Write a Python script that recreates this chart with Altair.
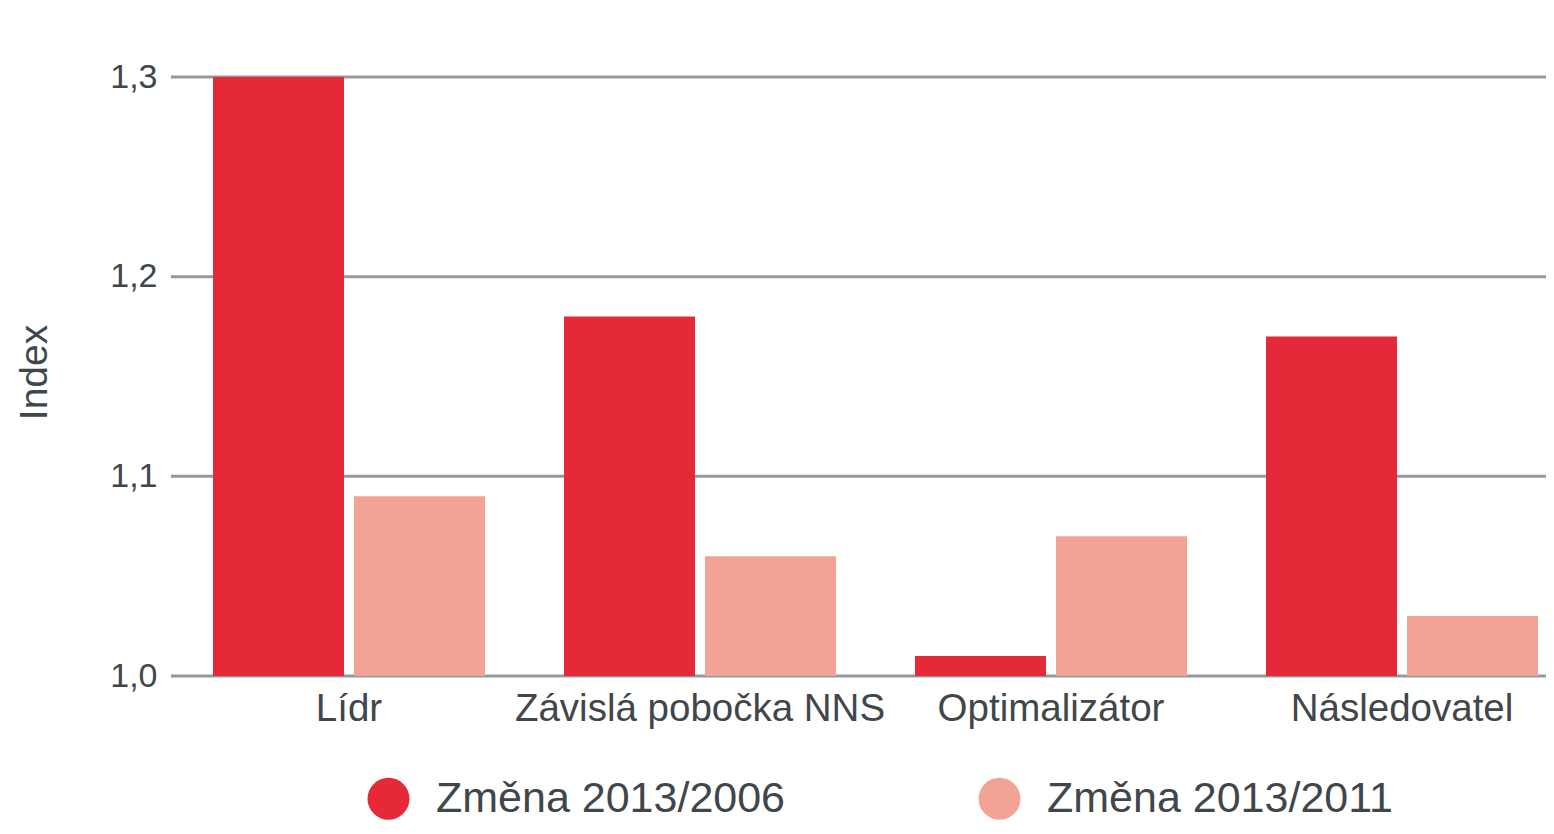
import altair as alt
import pandas as pd

categories = ["Lídr", "Závislá pobočka NNS", "Optimalizátor", "Následovatel"]
series = ["Změna 2013/2006", "Změna 2013/2011"]
values_2006 = [1.30, 1.18, 1.01, 1.17]
values_2011 = [1.09, 1.06, 1.07, 1.03]
y_ticks = [1.0, 1.1, 1.2, 1.3]
colors = ["#E52939", "#F3A395"]

rows = []
for c, a, b in zip(categories, values_2006, values_2011):
    rows.append({"kategorie": c, "serie": series[0], "index": a})
    rows.append({"kategorie": c, "serie": series[1], "index": b})
df = pd.DataFrame(rows)
grid_df = pd.DataFrame({"index": y_ticks})

FONT = "Liberation Sans"
TEXT = "#3F474B"
W, H = 1375, 599

y_scale = alt.Scale(domain=[1.0, 1.3], zero=False, nice=False)
y_axis = alt.Axis(
    values=y_ticks,
    labelExpr="replace(format(datum.value, '.1f'), '.', ',')",
    labelFontSize=34, labelFont=FONT, labelColor=TEXT, labelPadding=14,
    ticks=False, domain=False, grid=False,
    title="Index", titleFontSize=39, titleFont=FONT, titleColor=TEXT,
    titleFontWeight="normal", titleAngle=270, titleX=-137, titleY=295,
    titleAlign="center", titleBaseline="middle",
)

grid = alt.Chart(grid_df).mark_rule(color="#939A9E", strokeWidth=3).encode(
    y=alt.Y("index:Q", scale=y_scale, axis=y_axis),
    x=alt.value(0),
    x2=alt.value(W),
)

bars = alt.Chart(df).mark_bar().encode(
    x=alt.X(
        "kategorie:N",
        sort=categories,
        scale=alt.Scale(range=[42, 1367], paddingInner=0.225, paddingOuter=0),
        axis=alt.Axis(
            title=None, labelAngle=0, labelFontSize=38.5, labelFont=FONT,
            labelColor=TEXT, labelPadding=14, labelBaseline="top",
            ticks=False, domain=False, grid=False, labelLimit=600,
        ),
    ),
    xOffset=alt.XOffset("serie:N", sort=series,
                        scale=alt.Scale(paddingInner=0.071, paddingOuter=0)),
    y=alt.Y("index:Q", scale=y_scale, axis=y_axis),
    y2=alt.datum(1.0),
    color=alt.Color(
        "serie:N",
        sort=series,
        scale=alt.Scale(domain=series, range=colors),
        legend=alt.Legend(
            orient="none", legendX=196, legendY=700, direction="horizontal",
            title=None, symbolType="circle", symbolSize=1764,
            symbolStrokeWidth=0, symbolOpacity=1,
            labelFontSize=43, labelFont=FONT, labelColor=TEXT,
            labelOffset=26, columnPadding=192, padding=0, labelLimit=0,
        ),
    ),
)

chart = alt.layer(grid, bars).properties(
    width=W,
    height=H,
    autosize=alt.AutoSizeParams(type="none"),
    padding={"left": 163, "top": 69, "right": 0, "bottom": 150},
    background="white",
).configure_view(stroke=None)

chart.save("out.html", embed_options={"renderer": "svg", "actions": False})
